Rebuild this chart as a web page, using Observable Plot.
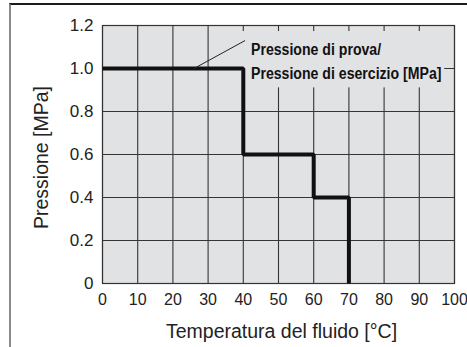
<!DOCTYPE html>
<html>
<head>
<meta charset="utf-8">
<script src="https://cdn.jsdelivr.net/npm/d3@7"></script>
<script src="https://cdn.jsdelivr.net/npm/@observablehq/plot@0.6"></script>
<style>
  html, body { margin: 0; padding: 0; background: #fff; }
  #wrap { position: relative; width: 467px; height: 347px; overflow: hidden; }
  #border { position: absolute; left: 9px; top: 3px; width: 470px; height: 360px;
            border-top: 2px solid #1c1c1c; border-left: 2px solid #8a8a8a; pointer-events: none; }
</style>
</head>
<body>
<div id="wrap"><div id="border"></div></div>
<script>
// Data
const temps = [0, 40, 60, 70];          // step start temperatures [°C]
const pressures = [1.0, 0.6, 0.4, 0];   // pressure from that temperature [MPa]
const xTicks = [0, 10, 20, 30, 40, 50, 60, 70, 80, 90, 100];
const yTicks = [0, 0.2, 0.4, 0.6, 0.8, 1.0, 1.2];
const yTickLabels = ["0", "0.2", "0.4", "0.6", "0.8", "1.0", "1.2"];
const noteLines = ["Pressione di prova/", "Pressione di esercizio [MPa]"];
const xLabel = "Temperatura del fluido [°C]";
const yLabel = "Pressione [MPa]";

const steps = temps.map((t, i) => ({t, p: pressures[i]}));
const bg = "#e1e2e4";
const gridColor = "#353535";

const chart = Plot.plot({
  width: 467,
  height: 347,
  marginLeft: 102,
  marginRight: 13,
  marginTop: 25,
  marginBottom: 64,
  x: {domain: [0, 100], ticks: xTicks, label: null},
  y: {domain: [0, 1.2], ticks: yTicks, label: null},
  style: {fontFamily: "'Liberation Sans', Arial, sans-serif", fontSize: "16px", color: "#222", background: "transparent"},
  marks: [
    Plot.frame({fill: bg, stroke: null}),
    Plot.gridX(xTicks, {stroke: gridColor, strokeOpacity: 1, strokeWidth: 1.1}),
    Plot.gridY(yTicks, {stroke: gridColor, strokeOpacity: 1, strokeWidth: 1.1}),
    // background patch behind the annotation text
    Plot.rect([0], {x1: 39.6, x2: 97.2, y1: 0.91, y2: 1.172, fill: bg}),
    Plot.frame({stroke: "#333", strokeWidth: 1.2}),
    Plot.axisX(xTicks, {tickSize: 0, tickPadding: 10, label: null, fontSize: 16, fill: "#222"}),
    Plot.axisY(yTicks, {tickSize: 0, tickPadding: 9, label: null, fontSize: 17, fill: "#222",
      tickFormat: d => yTickLabels[yTicks.indexOf(d)]}),
    Plot.line(steps, {x: "t", y: "p", curve: "step-after", stroke: "#111", strokeWidth: 4, strokeLinejoin: "miter", strokeLinecap: "butt"}),
    Plot.link([0], {x1: 26, y1: 1.0, x2: 40.5, y2: 1.13, stroke: "#222", strokeWidth: 1}),
    Plot.text([noteLines.join("\n")], {x: 42.2, y: 1.142, text: d => d, textAnchor: "start", lineAnchor: "top",
      lineHeight: 24 / 17, fontFamily: "'Liberation Sans', Arial, sans-serif",
      fontWeight: "bold", fontSize: 17, fill: "#111", className: "note"}),
    Plot.text([xLabel], {frameAnchor: "bottom", dx: 3, dy: 48.5, textAnchor: "middle", lineAnchor: "middle", text: d => d, fontSize: 19.5, fill: "#222"}),
    Plot.text([yLabel], {frameAnchor: "left", dx: -61, dy: 3, rotate: -90, textAnchor: "middle", lineAnchor: "middle", text: d => d, fontSize: 19.5, fill: "#222"})
  ]
});
// condense the annotation text horizontally (Helvetica Condensed look)
d3.select(chart).selectAll("g.note text").each(function() {
  const t = this.getAttribute("transform") || "";
  this.setAttribute("transform", t + " scale(0.83,1)");
});
document.getElementById("wrap").prepend(chart);
</script>
</body>
</html>
